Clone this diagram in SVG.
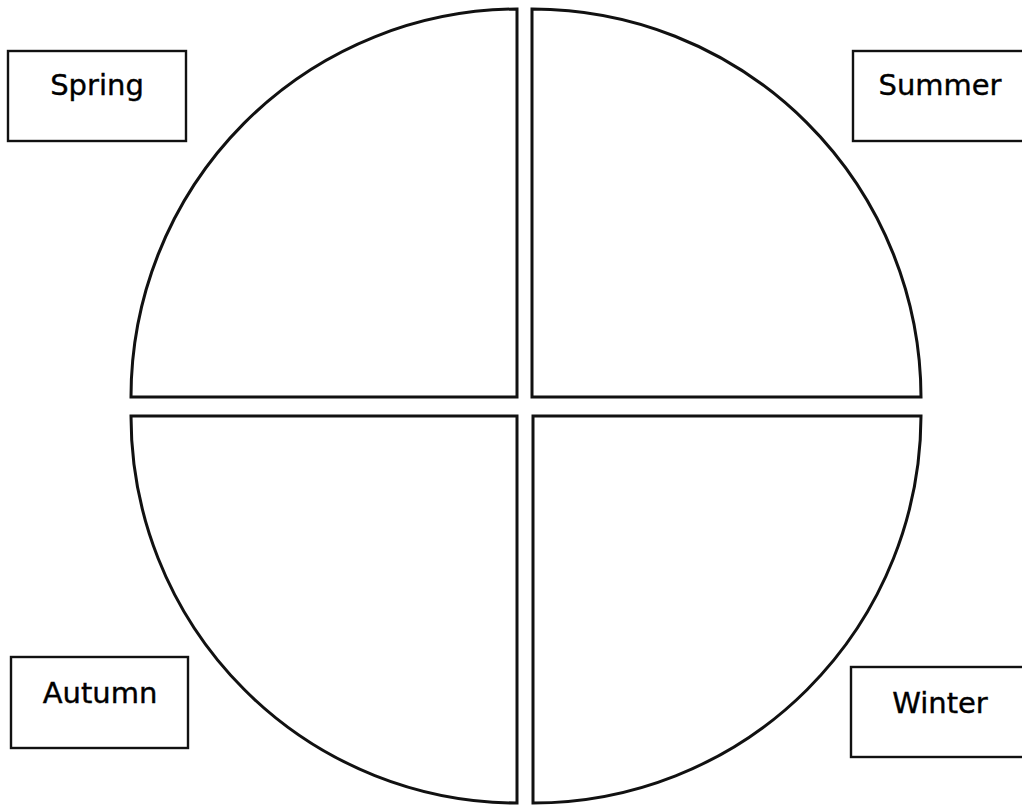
<svg xmlns="http://www.w3.org/2000/svg" width="1022" height="805" viewBox="0 0 1022 805">
<style>
.q{fill:#fff;stroke:#111;stroke-width:3;stroke-linejoin:miter}
.box{fill:#fff;stroke:#111;stroke-width:2.4}
.lbl{font-family:"DejaVu Sans","Liberation Sans",sans-serif;font-size:29px;fill:#000;stroke:#000;stroke-width:0.4;text-anchor:middle}
</style>
<rect width="1022" height="805" fill="#fff"/>
<g id="wheel">
<path id="q-tl" class="q" d="M517,397 L517,9 A388,388 0 0 0 131,397 Z"/>
<path id="q-tr" class="q" d="M532,397 L532,9 A389,389 0 0 1 921,397 Z"/>
<path id="q-bl" class="q" d="M517,416 L517,803 A387,387 0 0 1 131,416 Z"/>
<path id="q-br" class="q" d="M533,416 L533,803 A388,388 0 0 0 921,416 Z"/>
</g>
<g id="spring">
<rect class="box" x="8" y="51" width="178" height="90"/>
<text class="lbl" x="97" y="95">Spring</text>
</g>
<g id="summer">
<rect class="box" x="853" y="51" width="180" height="90"/>
<text class="lbl" x="940" y="95">Summer</text>
</g>
<g id="autumn">
<rect class="box" x="11" y="657" width="177" height="91"/>
<text class="lbl" x="100" y="703">Autumn</text>
</g>
<g id="winter">
<rect class="box" x="851" y="667" width="182" height="90"/>
<text class="lbl" x="940" y="713">Winter</text>
</g>
<g id="connectors"/>
</svg>
